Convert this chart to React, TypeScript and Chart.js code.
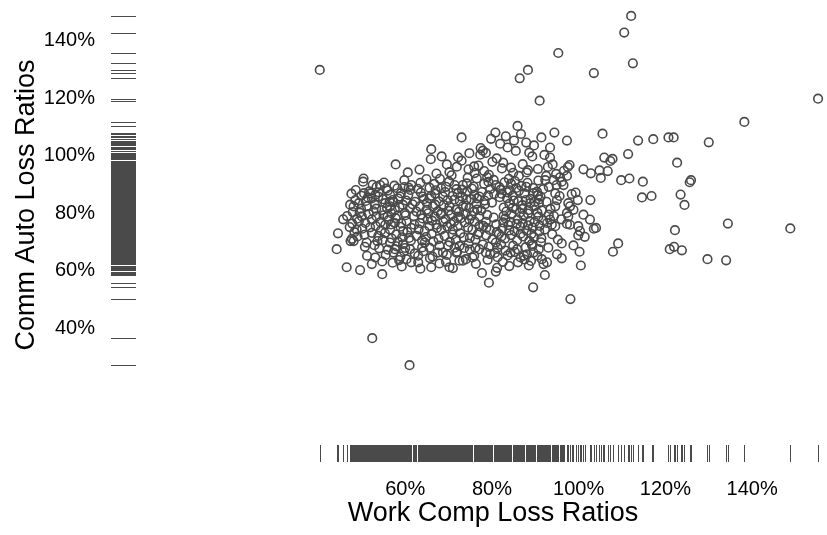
import { useEffect, useRef } from 'react';
import { Chart, registerables } from 'chart.js';

Chart.register(...registerables);

const FONT = '"Liberation Sans", Arial, Helvetica, sans-serif';
const INK = '#4a4a4a';

const xTitle = 'Work Comp Loss Ratios';
const yTitle = 'Comm Auto Loss Ratios';
const xTickValues = [60, 80, 100, 120, 140];
const yTickValues = [40, 60, 80, 100, 120, 140];

// [work comp %, comm auto %] pairs
const upperPoints: [number, number][] = [
  [40.3, 129.9], [95.3, 135.8], [86.4, 127.0], [88.3, 129.9], [91.0, 119.2], [85.9, 110.4],
  [80.8, 108.1], [86.7, 107.6], [85.1, 105.3], [91.4, 106.4], [94.4, 108.1], [73.0, 106.4],
  [66.0, 102.3], [83.6, 102.9], [77.4, 102.7], [77.9, 101.8], [78.6, 101.0], [77.3, 100.4],
  [85.5, 101.7], [88.6, 101.1], [93.4, 102.9], [93.4, 99.4], [57.8, 97.0], [73.0, 98.3],
  [69.6, 97.0], [82.6, 97.6], [84.4, 95.9], [75.9, 96.3], [76.9, 96.6], [78.2, 94.7],
  [60.6, 94.2], [70.2, 94.3], [70.7, 93.2], [86.2, 93.0], [88.0, 94.2], [88.3, 95.0],
  [92.5, 93.0], [50.4, 92.1], [55.1, 90.7], [59.8, 91.5], [64.9, 91.9], [74.4, 92.4],
];

const rightTail: [number, number][] = [
  [112.1, 148.7], [110.5, 142.9], [112.5, 132.2], [103.5, 128.8], [155.2, 119.9], [138.2, 111.8],
  [105.5, 107.7], [97.3, 105.3], [113.7, 105.3], [117.2, 105.8], [120.7, 106.4], [121.9, 106.4],
  [130.0, 104.7], [105.9, 99.4], [107.8, 98.9], [107.3, 98.2], [111.4, 100.6], [122.7, 97.6],
  [97.9, 96.8], [97.5, 96.1], [101.1, 95.3], [102.8, 93.9], [104.8, 94.9], [106.7, 94.7],
  [105.1, 92.3], [95.7, 92.5], [97.3, 93.0], [109.8, 91.5], [111.7, 92.1], [114.8, 91.0],
  [125.9, 91.5], [125.6, 90.8], [123.5, 86.5], [124.4, 82.9], [114.6, 85.5], [116.8, 86.0],
  [102.7, 84.6], [98.4, 86.7], [99.3, 87.2], [99.8, 84.6], [97.6, 83.5], [98.0, 82.4],
  [101.1, 79.5], [102.6, 77.8], [98.0, 76.0], [97.3, 76.3], [103.5, 74.6], [104.0, 74.9],
  [100.3, 73.8], [99.9, 72.3], [101.4, 71.8], [109.1, 69.5], [107.9, 66.6], [96.1, 69.5],
  [98.8, 68.8], [100.2, 66.6], [96.1, 64.3], [100.5, 61.8], [122.2, 74.1], [121.0, 67.5],
  [122.0, 68.3], [123.8, 67.1], [134.4, 76.4], [148.8, 74.7], [129.7, 64.0], [134.0, 63.6],
];

const lowTail: [number, number][] = [
  [52.4, 36.5], [61.0, 27.1], [79.3, 55.8], [89.5, 54.2], [98.1, 50.1], [77.7, 59.2],
  [80.9, 59.7], [92.2, 58.5], [54.7, 58.8], [49.6, 60.2],
];

const leftCore: [number, number][] = [
  [50.3, 91.0], [70.1, 91.0], [71.4, 89.8], [76.5, 92.1], [53.4, 89.2], [54.2, 89.8],
  [61.4, 89.8], [65.6, 88.9], [68.3, 88.7], [69.4, 89.2], [73.3, 89.8], [74.2, 90.4],
  [53.1, 86.4], [52.3, 85.2], [53.8, 85.8], [56.5, 86.4], [58.8, 85.8], [60.7, 86.4],
  [61.2, 88.1], [64.1, 85.8], [65.6, 85.2], [68.7, 85.8], [69.8, 84.6], [72.1, 86.9],
  [73.1, 85.8], [75.9, 86.4], [77.1, 85.8], [48.5, 84.6], [48.1, 82.4], [49.3, 83.5],
  [51.2, 82.4], [52.7, 80.7], [55.4, 83.5], [56.5, 82.4], [57.6, 81.2], [59.5, 82.9],
  [61.1, 81.8], [59.9, 80.1], [63.4, 82.4], [64.9, 81.2], [63.7, 79.5], [66.4, 82.4],
  [67.5, 80.7], [66.8, 78.9], [70.2, 82.4], [71.7, 81.2], [70.6, 79.5], [73.3, 82.4],
  [74.8, 81.8], [75.9, 80.7], [77.1, 78.9], [49.3, 77.2], [50.0, 78.9], [50.8, 76.6],
  [52.3, 77.8], [53.4, 78.9], [55.4, 76.0], [56.5, 74.3], [57.6, 76.6], [60.3, 77.2],
  [61.4, 74.9], [59.5, 73.8], [63.4, 76.6], [64.5, 73.8], [65.6, 75.5], [67.2, 76.0],
  [68.3, 74.3], [69.1, 72.1], [71.0, 74.3], [72.1, 75.5], [71.7, 70.9], [74.8, 77.8],
  [75.5, 74.3], [76.7, 72.6], [77.1, 75.5], [44.5, 73.0], [47.7, 71.1], [48.1, 70.3],
  [47.4, 70.3], [44.2, 67.5], [52.3, 73.2], [53.8, 72.1], [54.8, 70.7], [56.5, 69.8],
  [57.6, 67.5], [57.3, 66.3], [59.5, 69.2], [61.1, 67.5], [60.3, 64.0], [61.4, 62.9],
  [63.0, 65.2], [63.0, 62.9], [64.5, 69.8], [65.6, 68.0], [67.5, 66.3], [68.7, 66.3],
  [66.0, 61.2], [70.2, 61.2], [72.5, 63.5], [73.3, 63.5], [74.0, 64.0], [71.4, 68.0],
  [72.5, 68.6], [75.9, 65.2], [77.1, 67.5], [51.2, 65.2], [53.1, 64.6], [52.3, 62.3],
  [46.5, 61.2], [62.3, 84.0], [63.6, 87.2], [66.9, 86.8], [67.8, 84.1], [70.9, 86.0],
  [72.6, 84.3], [74.3, 87.6], [75.2, 84.9], [76.4, 83.2], [62.0, 79.0], [65.3, 80.0],
  [68.2, 79.6], [69.3, 77.9], [72.8, 78.3], [73.9, 79.9], [76.0, 77.1], [62.6, 72.1],
  [63.9, 70.5], [66.1, 72.8], [67.7, 71.0], [70.3, 70.0], [73.5, 71.6], [74.6, 69.4],
  [76.2, 70.8], [58.2, 79.1], [58.9, 75.3], [60.9, 71.4], [57.9, 72.6], [55.9, 78.8],
  [54.6, 81.1], [57.1, 84.6], [62.9, 88.5], [66.7, 90.2], [58.2, 88.7], [56.0, 87.9],
  [51.7, 87.6], [49.9, 86.1], [47.3, 83.0], [46.6, 79.0], [45.7, 77.9], [47.8, 76.4],
  [48.8, 74.3], [50.6, 72.5], [51.1, 69.8], [54.0, 67.8], [55.5, 65.5], [58.6, 63.7],
  [64.2, 66.8], [66.3, 64.9], [69.4, 63.1], [69.9, 68.8], [72.0, 66.6], [74.9, 67.3],
  [76.3, 62.4], [71.0, 60.9], [67.9, 62.5], [63.5, 60.7], [59.2, 61.5], [65.0, 83.6],
  [66.2, 77.4], [67.0, 88.0], [68.9, 82.9], [69.7, 75.4], [71.3, 77.2], [72.4, 80.5],
  [73.7, 76.8], [74.1, 84.8], [75.4, 88.6], [76.6, 81.3], [64.0, 78.2], [62.1, 76.0],
  [60.2, 84.4], [56.8, 80.0], [53.2, 75.6], [59.0, 87.0], [71.8, 88.4], [68.0, 92.0],
];

const leftFringe: [number, number][] = [
  [47.2, 75.2], [47.6, 86.8], [48.3, 73.4], [48.6, 88.1], [49.0, 71.9], [49.5, 80.2],
  [50.1, 74.6], [50.5, 87.0], [50.7, 68.3], [51.4, 85.5], [51.9, 75.1], [52.5, 89.9],
  [52.9, 68.9], [53.3, 81.6], [53.9, 87.3], [54.4, 74.0], [54.7, 63.2], [55.0, 79.3],
  [55.6, 88.6], [56.0, 67.3], [56.4, 84.0], [56.7, 76.1], [57.1, 62.8], [57.5, 89.6],
  [58.0, 68.5], [58.4, 85.1], [58.9, 64.9], [59.3, 71.6], [59.8, 89.1], [60.0, 67.9],
];

const rightCore: [number, number][] = [
  [92.3, 91.5], [93.1, 89.2], [94.2, 91.5], [94.9, 89.8], [96.1, 91.0], [96.5, 89.8],
  [90.4, 87.5], [91.2, 85.8], [90.8, 83.5], [94.6, 86.9], [95.0, 84.6], [94.6, 82.4],
  [98.8, 81.2], [97.3, 80.1], [99.9, 75.5], [97.6, 78.9], [93.1, 79.5], [93.4, 77.8],
  [93.8, 76.0], [94.6, 75.5], [92.7, 76.6], [95.0, 65.7], [90.8, 67.5], [91.5, 64.0],
  [91.9, 62.3], [92.7, 62.9], [86.6, 64.6], [87.4, 65.2], [88.1, 65.7], [84.3, 66.3],
  [85.8, 67.5], [89.3, 68.6], [89.6, 66.3], [75.5, 64.6], [78.6, 66.3], [81.3, 68.0],
  [80.9, 69.8], [78.2, 90.3], [79.6, 88.4], [80.4, 91.6], [81.7, 89.1], [82.9, 90.8],
  [84.1, 88.0], [85.3, 91.2], [86.8, 89.5], [88.2, 90.6], [89.5, 88.8], [90.7, 91.4],
  [79.1, 86.2], [82.2, 86.8], [83.5, 85.3], [84.8, 86.1], [86.1, 84.2], [87.5, 86.9],
  [88.9, 85.0], [90.6, 86.3], [78.4, 83.1], [82.7, 82.0], [84.0, 83.3], [85.6, 81.4],
  [87.0, 82.8], [88.4, 81.1], [89.8, 82.5], [91.5, 81.0], [78.9, 79.4], [83.1, 78.2],
  [84.5, 79.6], [85.9, 77.9], [87.3, 79.1], [88.7, 77.3], [90.7, 78.8], [91.8, 77.5],
  [78.0, 75.6], [79.5, 74.2], [81.0, 76.1], [82.4, 74.7], [83.8, 75.9], [85.2, 73.8],
  [86.6, 75.3], [88.0, 73.9], [89.4, 75.0], [90.9, 73.6], [78.7, 72.3], [80.1, 70.9],
  [81.6, 72.8], [83.0, 71.2], [84.4, 72.4], [85.8, 70.6], [87.2, 71.9], [88.6, 70.4],
  [89.7, 71.7], [91.3, 69.9], [79.3, 68.4], [82.1, 69.1], [84.9, 68.7], [87.8, 68.2],
  [80.7, 66.2], [83.6, 65.3], [86.0, 62.9], [82.5, 63.1], [79.0, 63.8], [84.0, 61.6],
  [88.5, 61.8], [81.2, 61.0], [89.0, 63.4], [77.7, 87.4], [78.6, 77.0], [80.5, 86.7],
  [81.1, 73.4], [82.0, 88.2], [82.6, 76.8], [83.3, 80.6], [84.3, 77.0], [85.0, 84.4],
  [85.6, 88.8], [86.4, 80.2], [87.1, 76.6], [87.8, 84.6], [88.3, 79.9], [89.1, 72.8],
  [89.9, 84.0], [90.5, 80.2], [91.0, 75.6], [78.9, 92.5], [83.9, 92.0],
];

const denseCore: [number, number][] = [
  [47.9, 80.4], [48.9, 78.1], [49.8, 81.6], [50.9, 84.3], [51.6, 79.7], [52.0, 86.9],
  [53.0, 83.0], [53.6, 70.3], [54.3, 76.9], [54.9, 84.9], [55.3, 73.1], [55.8, 81.9],
  [56.2, 77.7], [56.9, 71.2], [57.3, 83.9], [57.8, 78.3], [58.3, 70.1], [58.7, 82.1],
  [59.1, 76.5], [59.7, 66.8], [60.1, 79.3], [60.5, 73.5], [60.8, 88.9], [61.3, 70.5],
  [61.7, 83.1], [62.2, 66.0], [62.6, 80.6], [63.1, 74.4], [63.5, 90.6], [63.9, 68.1],
  [64.3, 84.9], [64.8, 71.7], [65.2, 77.9], [65.7, 64.4], [66.0, 86.1], [66.5, 70.2],
  [66.9, 83.0], [67.3, 74.9], [67.9, 68.7], [68.4, 80.1], [68.8, 77.0], [69.2, 87.4],
  [69.6, 65.5], [70.0, 80.9], [70.5, 76.3], [70.9, 72.6], [71.3, 84.7], [71.8, 66.3],
  [72.2, 78.8], [72.7, 73.0], [73.1, 88.2], [73.6, 67.9], [74.0, 82.6], [74.5, 75.0],
  [74.9, 71.4], [75.3, 79.2], [75.8, 89.3], [76.2, 68.0], [76.6, 85.2], [77.0, 73.3],
  [77.5, 81.0], [77.9, 69.1], [78.3, 84.4], [78.7, 74.9], [79.2, 90.9], [79.6, 65.8],
  [80.0, 83.7], [80.4, 78.5], [80.9, 89.8], [81.3, 64.7], [81.8, 85.6], [82.2, 71.9],
  [82.7, 79.1], [83.1, 67.0], [83.5, 87.3], [84.0, 74.0], [84.4, 90.3], [84.8, 81.9],
  [85.3, 66.5], [85.7, 76.3], [86.2, 87.8], [86.6, 72.9], [87.0, 81.5], [87.5, 63.9],
  [87.9, 89.2], [88.3, 75.8], [88.8, 83.5], [89.2, 69.3], [89.6, 87.0], [89.8, 76.9],
  [90.5, 65.2], [90.9, 84.8], [91.4, 71.3], [91.8, 88.4], [92.2, 74.3], [92.6, 84.0],
  [93.0, 68.0], [93.5, 81.5], [93.9, 72.7], [94.3, 79.0], [94.8, 93.7], [95.2, 70.8],
  [95.6, 86.0], [96.0, 77.9], [96.6, 94.8], [92.9, 96.1], [90.6, 95.4], [87.1, 97.1],
  [84.9, 94.1], [82.3, 95.6], [80.1, 97.9], [79.3, 93.4], [76.0, 94.0], [74.6, 95.3],
  [71.9, 96.2], [67.2, 93.8], [63.3, 95.2], [65.9, 98.8], [72.2, 99.5], [81.1, 99.1],
  [89.3, 99.8], [94.0, 97.0], [81.9, 104.2], [89.7, 103.6], [74.8, 100.9], [92.1, 100.3],
  [68.4, 99.8], [83.2, 106.8], [87.9, 104.6], [79.8, 105.9],
];

const lossRatios = [
  ...upperPoints,
  ...rightTail,
  ...lowTail,
  ...leftCore,
  ...leftFringe,
  ...rightCore,
  ...denseCore,
].map(([x, y]) => ({ x, y }));

// Rug marks along both axes plus the two axis titles
const rugPlugin = {
  id: 'rugsAndTitles',
  afterDatasetsDraw(chart: any) {
    const { ctx, chartArea, scales } = chart;
    const xs = scales.x;
    const ys = scales.y;
    ctx.save();
    ctx.strokeStyle = INK;
    ctx.lineWidth = 1;
    ctx.beginPath();
    for (const p of lossRatios) {
      const px = Math.round(xs.getPixelForValue(p.x)) + 0.5;
      ctx.moveTo(px, chartArea.bottom + 2);
      ctx.lineTo(px, chartArea.bottom + 19);
      const py = Math.round(ys.getPixelForValue(p.y)) + 0.5;
      ctx.moveTo(chartArea.left - 34, py);
      ctx.lineTo(chartArea.left - 9, py);
    }
    ctx.stroke();

    ctx.fillStyle = '#000';
    ctx.font = `27px ${FONT}`;
    ctx.textAlign = 'center';
    ctx.textBaseline = 'alphabetic';
    ctx.fillText(xTitle, 493, 521);
    ctx.translate(34, 205);
    ctx.rotate(-Math.PI / 2);
    ctx.fillText(yTitle, 0, 0);
    ctx.restore();
  },
};

const tickFont = { family: FONT, size: 20 };

export default function App() {
  const canvasRef = useRef<HTMLCanvasElement>(null);

  useEffect(() => {
    const chart = new Chart(canvasRef.current!, {
      type: 'scatter',
      data: {
        datasets: [
          {
            data: lossRatios,
            pointStyle: 'circle',
            pointRadius: 4.3,
            pointHoverRadius: 4.3,
            borderWidth: 1.6,
            borderColor: INK,
            backgroundColor: 'rgba(0,0,0,0)',
            clip: false as any,
          },
        ],
      },
      options: {
        animation: false,
        responsive: false,
        devicePixelRatio: 1,
        layout: { padding: 0 },
        plugins: { legend: { display: false }, tooltip: { enabled: false } },
        scales: {
          x: {
            type: 'linear',
            min: 0,
            max: 155.9,
            grid: { display: false, drawTicks: false },
            border: { display: false },
            ticks: {
              padding: 34,
              color: '#000',
              font: tickFont,
              maxRotation: 0,
              autoSkip: false,
              callback: (v: any) => `${v}%`,
            },
            afterBuildTicks: (s: any) => {
              s.ticks = xTickValues.map((value) => ({ value }));
            },
            afterFit: (s: any) => {
              s.height = 92;
              s.paddingLeft = 0;
              s.paddingRight = 0;
            },
          },
          y: {
            type: 'linear',
            min: 0,
            max: 152.2,
            grid: { display: false, drawTicks: false },
            border: { display: false },
            ticks: {
              padding: 50,
              color: '#000',
              font: tickFont,
              autoSkip: false,
              callback: (v: any) => `${v}%`,
            },
            afterBuildTicks: (s: any) => {
              s.ticks = yTickValues.map((value) => ({ value }));
            },
            afterFit: (s: any) => {
              s.width = 145;
              s.paddingTop = 0;
              s.paddingBottom = 0;
            },
          },
        },
      },
      plugins: [rugPlugin],
    });
    return () => chart.destroy();
  }, []);

  return (
    <div style={{ position: 'absolute', left: 0, top: 0, width: 827, height: 535 }}>
      <canvas ref={canvasRef} width={827} height={535} style={{ display: 'block' }} />
    </div>
  );
}
